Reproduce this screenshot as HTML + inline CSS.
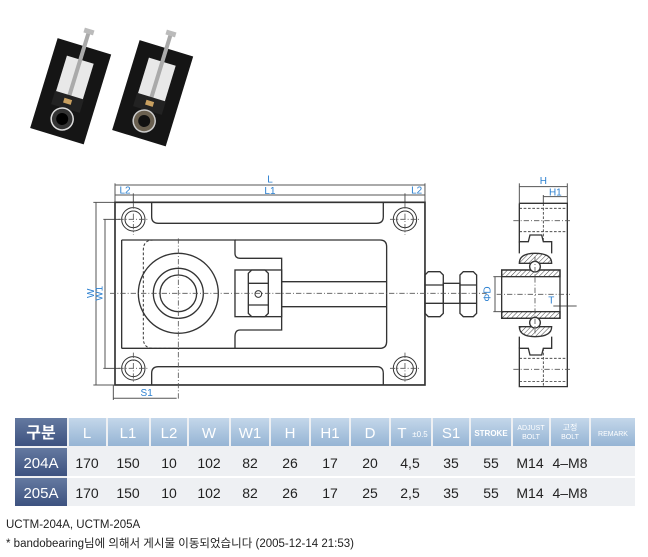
<!DOCTYPE html>
<html><head><meta charset="utf-8"><style>
body{margin:0;background:#fff;width:648px;height:557px;overflow:hidden;position:relative;font-family:"Liberation Sans","Noto Sans CJK KR",sans-serif}
svg{position:absolute;left:0;top:0}
.t{position:absolute;font-size:11.5px;color:#222;left:6px}
</style></head><body>
<svg width="648" height="557" viewBox="0 0 648 557">
<!-- photos -->
<g transform="rotate(17 70 90)">
<rect x="43" y="44" width="56" height="94" fill="#151515"/>
<rect x="57" y="58" width="28" height="38" fill="#e8e8e8"/>
<rect x="69" y="30" width="4" height="70" fill="#aaa"/>
<rect x="66" y="26" width="10" height="5" fill="#bbb"/>
<rect x="56" y="95" width="30" height="14" fill="#222"/>
<rect x="67" y="99" width="8" height="5" fill="#c9a060"/>
<circle cx="71" cy="120" r="11" fill="#333" stroke="#ddd" stroke-width="1.5"/>
<circle cx="71" cy="120" r="6" fill="#000"/>
</g>
<g transform="rotate(17 152 92)">
<rect x="125" y="46" width="56" height="94" fill="#151515"/>
<rect x="139" y="60" width="28" height="38" fill="#e8e8e8"/>
<rect x="151" y="32" width="4" height="70" fill="#aaa"/>
<rect x="148" y="28" width="10" height="5" fill="#bbb"/>
<rect x="138" y="97" width="30" height="14" fill="#222"/>
<rect x="149" y="101" width="8" height="5" fill="#c9a060"/>
<circle cx="153" cy="122" r="11" fill="#6a6050" stroke="#ccc" stroke-width="1.5"/>
<circle cx="153" cy="122" r="6" fill="#111"/>
</g>
<!-- front view -->
<g transform="translate(90 170) scale(0.3333)" fill="none" stroke="#333" stroke-width="4">
<g stroke="#555" stroke-width="3">
<line x1="75" y1="40" x2="75" y2="97"/><line x1="1005" y1="40" x2="1005" y2="97"/>
<line x1="75" y1="45" x2="1005" y2="45"/><line x1="130" y1="75" x2="945" y2="75"/>
<line x1="75" y1="75" x2="130" y2="75"/><line x1="945" y1="75" x2="1005" y2="75"/>
<line x1="130" y1="70" x2="130" y2="100"/><line x1="945" y1="70" x2="945" y2="100"/>
<line x1="10" y1="97" x2="75" y2="97"/><line x1="10" y1="645" x2="75" y2="645"/>
<line x1="18" y1="97" x2="18" y2="645"/>
<line x1="40" y1="148" x2="90" y2="148"/><line x1="40" y1="595" x2="90" y2="595"/>
<line x1="45" y1="148" x2="45" y2="595"/>
<line x1="70" y1="645" x2="70" y2="690"/><line x1="70" y1="685" x2="260" y2="685"/>
</g>
<rect x="75" y="97" width="930" height="548" stroke-width="5"/>
<path d="M185 97 V140 Q185 160 205 160 H860 Q880 160 880 140 V97"/>
<path d="M185 645 V610 Q185 590 205 590 H860 Q880 590 880 610 V645"/>
<g stroke-width="3">
<circle cx="130" cy="148" r="35"/><circle cx="130" cy="148" r="25"/>
<circle cx="945" cy="148" r="35"/><circle cx="945" cy="148" r="25"/>
<circle cx="130" cy="595" r="35"/><circle cx="130" cy="595" r="25"/>
<circle cx="945" cy="595" r="35"/><circle cx="945" cy="595" r="25"/>
</g>
<path d="M95 210 V535 M95 210 H435 V250 Q435 265 450 265 H575 V480 H450 Q435 480 435 500 V535 H95"/>
<path d="M435 210 H870 Q890 210 890 230 V515 Q890 535 870 535 H435"/>
<path d="M260 210 H190 Q160 210 160 240 V505 Q160 535 190 535 H260" stroke-dasharray="8 6" stroke-width="3"/>
<circle cx="265" cy="370" r="120"/><circle cx="265" cy="370" r="75"/><circle cx="265" cy="370" r="55"/>
<rect x="435" y="300" width="140" height="140"/>
<path d="M475 310 L485 300 H525 L535 310 V430 L525 440 H485 L475 430 Z"/>
<line x1="475" y1="340" x2="535" y2="340"/><line x1="475" y1="405" x2="535" y2="405"/>
<circle cx="505" cy="372" r="10" stroke-width="3"/>
<line x1="575" y1="335" x2="890" y2="335"/><line x1="575" y1="410" x2="890" y2="410"/>
<path d="M1005 315 L1015 305 H1050 L1060 315 V430 L1050 440 H1015 L1005 430 Z"/>
<line x1="1005" y1="345" x2="1060" y2="345"/><line x1="1005" y1="400" x2="1060" y2="400"/>
<rect x="1060" y="340" width="50" height="60"/>
<path d="M1110 315 L1120 305 H1150 L1160 315 V430 L1150 440 H1120 L1110 430 Z"/>
<line x1="1110" y1="345" x2="1160" y2="345"/><line x1="1110" y1="400" x2="1160" y2="400"/>
<g stroke="#555" stroke-width="2.5" stroke-dasharray="16 6 3 6">
<line x1="60" y1="370" x2="1190" y2="370"/>
<line x1="265" y1="205" x2="265" y2="690"/>
<line x1="130" y1="100" x2="130" y2="195"/><line x1="85" y1="148" x2="175" y2="148"/>
<line x1="945" y1="100" x2="945" y2="195"/><line x1="900" y1="148" x2="990" y2="148"/>
<line x1="130" y1="548" x2="130" y2="640"/><line x1="85" y1="595" x2="175" y2="595"/>
<line x1="945" y1="548" x2="945" y2="640"/><line x1="900" y1="595" x2="990" y2="595"/>
</g>
<g fill="#2a7fd0" stroke="none" font-size="30" font-family="Liberation Sans,sans-serif" text-anchor="middle">
<text x="540" y="38">L</text><text x="540" y="72">L1</text>
<text x="105" y="70">L2</text><text x="980" y="70">L2</text>
<text x="170" y="678">S1</text>
<text transform="translate(38 370) rotate(-90)">W1</text>
<text transform="translate(12 370) rotate(-90)">W</text>
</g>
</g>
<!-- side view -->
<g transform="translate(480 170) scale(0.3333)" fill="none" stroke="#333" stroke-width="4">
<g stroke="#555" stroke-width="3">
<line x1="118" y1="40" x2="118" y2="100"/><line x1="262" y1="40" x2="262" y2="100"/>
<line x1="118" y1="50" x2="262" y2="50"/><line x1="190" y1="80" x2="262" y2="80"/>
<line x1="190" y1="75" x2="190" y2="100"/>
<line x1="45" y1="320" x2="45" y2="425"/><line x1="40" y1="320" x2="65" y2="320"/><line x1="40" y1="425" x2="65" y2="425"/>
<line x1="220" y1="408" x2="290" y2="408"/>
</g>
<path d="M118 100 H262 V650 H118 V535 H145 L150 555 H185 L190 535 H215 V500 M118 100 V215 H145 L150 195 H185 L190 215 H215 V250"/>
<path d="M118 215 V250 M118 500 V535"/>
<line x1="190" y1="100" x2="190" y2="215" stroke-dasharray="8 5" stroke-width="2.5"/>
<line x1="190" y1="535" x2="190" y2="650" stroke-dasharray="8 5" stroke-width="2.5"/>
<g stroke-dasharray="8 5" stroke-width="2.5"><line x1="118" y1="115" x2="262" y2="115"/><line x1="118" y1="185" x2="262" y2="185"/><line x1="118" y1="565" x2="262" y2="565"/><line x1="118" y1="635" x2="262" y2="635"/></g>
<defs><pattern id="h" width="10" height="10" patternUnits="userSpaceOnUse" patternTransform="rotate(45)"><line x1="0" y1="0" x2="0" y2="10" stroke="#444" stroke-width="3"/></pattern></defs>
<path d="M118 280 Q118 250 165 250 Q215 250 215 280 Z" fill="url(#h)"/>
<path d="M118 470 Q118 500 165 500 Q215 500 215 470 Z" fill="url(#h)"/>
<rect x="65" y="300" width="175" height="20" fill="url(#h)"/>
<rect x="65" y="425" width="175" height="20" fill="url(#h)"/>
<rect x="65" y="300" width="175" height="145"/>
<circle cx="165" cy="290" r="16" fill="#fff"/><circle cx="165" cy="458" r="16" fill="#fff"/>
<g stroke="#555" stroke-width="2.5" stroke-dasharray="16 6 3 6">
<line x1="100" y1="152" x2="270" y2="152"/><line x1="50" y1="373" x2="270" y2="373"/><line x1="100" y1="598" x2="270" y2="598"/>
<line x1="165" y1="260" x2="165" y2="490"/>
</g>
<g fill="#2a7fd0" stroke="none" font-size="30" font-family="Liberation Sans,sans-serif" text-anchor="middle">
<text x="190" y="42">H</text><text x="226" y="76">H1</text><text x="214" y="400">T</text>
<text transform="translate(32 372) rotate(-90)">ΦD</text>
</g>
</g>
<!-- table -->
<defs><linearGradient id="hd" x1="0" y1="0" x2="0" y2="1"><stop offset="0" stop-color="#c4d7ea"/><stop offset="1" stop-color="#95b4d4"/></linearGradient>
<linearGradient id="fc" x1="0" y1="0" x2="0" y2="1"><stop offset="0" stop-color="#6479a0"/><stop offset="1" stop-color="#3d5280"/></linearGradient></defs>
<rect x="15" y="418" width="620" height="88" fill="#eef0f3"/>
<g fill="url(#hd)">
<rect x="69" y="418" width="37" height="28"/><rect x="108" y="418" width="41" height="28"/><rect x="151" y="418" width="36" height="28"/><rect x="189" y="418" width="40" height="28"/><rect x="231" y="418" width="38" height="28"/><rect x="271" y="418" width="38" height="28"/><rect x="311" y="418" width="38" height="28"/><rect x="351" y="418" width="38" height="28"/><rect x="391" y="418" width="40" height="28"/><rect x="433" y="418" width="36" height="28"/><rect x="471" y="418" width="40" height="28"/><rect x="513" y="418" width="36" height="28"/><rect x="551" y="418" width="38" height="28"/><rect x="591" y="418" width="44" height="28"/>
</g>
<g fill="url(#fc)"><rect x="15" y="418" width="52" height="28"/><rect x="15" y="448" width="52" height="28"/><rect x="15" y="478" width="52" height="28"/></g>
<line x1="67" y1="477" x2="635" y2="477" stroke="#fff" stroke-width="2"/>
<g font-family="Liberation Sans,'Noto Sans CJK KR',sans-serif" text-anchor="middle" fill="#fff">
<text x="41" y="438" font-size="16" font-weight="bold">구분</text>
<text x="41" y="468" font-size="15">204A</text><text x="41" y="498" font-size="15">205A</text>
<g font-size="15"><text x="87" y="438">L</text><text x="128" y="438">L1</text><text x="169" y="438">L2</text><text x="209" y="438">W</text><text x="250" y="438">W1</text><text x="290" y="438">H</text><text x="330" y="438">H1</text><text x="370" y="438">D</text><text x="402" y="438">T</text><text x="451" y="438">S1</text></g>
<text x="420" y="437" font-size="8">±0.5</text>
<text x="491" y="436" font-size="8" font-weight="bold">STROKE</text>
<text x="531" y="430" font-size="7">ADJUST</text><text x="531" y="439" font-size="7">BOLT</text>
<text x="570" y="430" font-size="8">고정</text><text x="570" y="439" font-size="7">BOLT</text>
<text x="613" y="436" font-size="7">REMARK</text>
</g>
<g font-family="Liberation Sans,sans-serif" font-size="14" text-anchor="middle" fill="#222">
<text x="87" y="468">170</text><text x="128" y="468">150</text><text x="169" y="468">10</text><text x="209" y="468">102</text><text x="250" y="468">82</text><text x="290" y="468">26</text><text x="330" y="468">17</text><text x="370" y="468">20</text><text x="410" y="468">4,5</text><text x="451" y="468">35</text><text x="491" y="468">55</text><text x="530" y="468">M14</text><text x="570" y="468">4–M8</text>
<text x="87" y="498">170</text><text x="128" y="498">150</text><text x="169" y="498">10</text><text x="209" y="498">102</text><text x="250" y="498">82</text><text x="290" y="498">26</text><text x="330" y="498">17</text><text x="370" y="498">25</text><text x="410" y="498">2,5</text><text x="451" y="498">35</text><text x="491" y="498">55</text><text x="530" y="498">M14</text><text x="570" y="498">4–M8</text>
</g>
</svg>
<div class="t" style="top:519px">UCTM-204A, UCTM-205A</div>
<div class="t" style="top:535px">* bandobearing님에 의해서 게시물 이동되었습니다 (2005-12-14 21:53)</div>
</body></html>
